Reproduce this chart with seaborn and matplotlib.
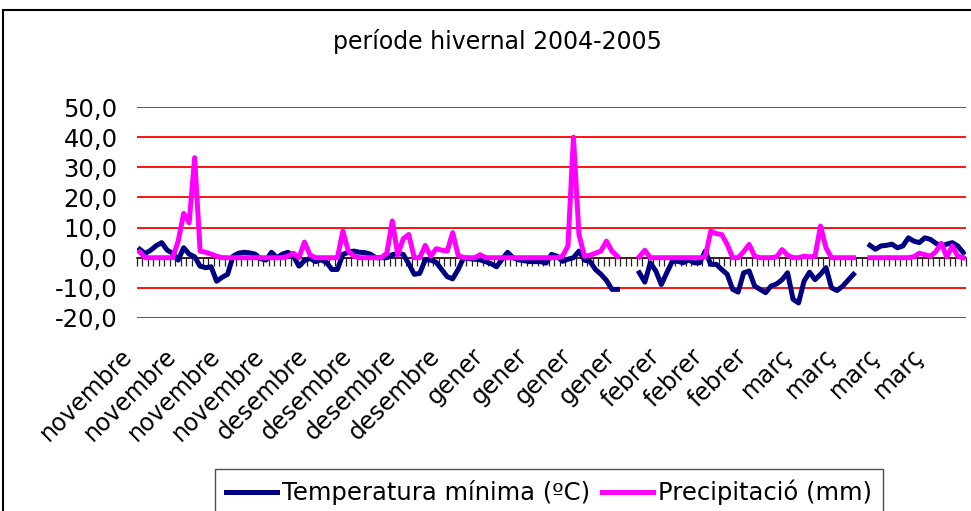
import numpy as np
import pandas as pd
import matplotlib
matplotlib.use('Agg')
import matplotlib.pyplot as plt
import seaborn as sns
from matplotlib.patches import Rectangle
from matplotlib.transforms import ScaledTranslation

# daily values, 1 Nov 2004 - 31 Mar 2005 (nan = no data)
nan = np.nan
temp_min = [
    2.8, 1.4, 2.5, 4.0, 5.0, 2.5, 1.5, -0.8, 3.3, 1.2,
    0.3, -2.8, -3.3, -3.0, -7.8, -6.5, -5.5, 0.5, 1.5, 1.8,
    1.6, 1.2, -0.3, -0.8, 1.8, 0.0, 1.2, 1.8, 0.5, -2.8,
    -1.0, -0.2, -1.3, -0.7, -1.5, -3.9, -3.9, 1.1, 1.8, 2.2,
    1.8, 1.7, 1.2, 0.0, 0.0, 0.0, 1.0, 1.4, 1.1, -2.0,
    -5.5, -5.2, -0.7, -0.8, -1.5, -3.9, -6.3, -7.0, -3.9, 0.0,
    -0.3, -0.5, -0.7, -1.3, -2.0, -3.0, -0.5, 1.8, 0.0, -0.7,
    -1.0, -1.3, -1.3, -1.3, -1.8, 1.1, 0.5, -1.2, -0.5, 0.0,
    2.2, -0.8, -1.2, -3.9, -5.5, -7.5, -10.5, -10.5, nan, nan,
    nan, -5.0, -8.1, -1.7, -4.4, -8.9, -5.0, -1.2, -1.2, -1.7,
    -0.7, -1.7, -1.7, 2.2, -2.2, -2.2, -3.9, -5.5, -10.5, -11.4,
    -5.0, -4.4, -9.4, -10.5, -11.6, -9.4, -8.7, -7.3, -5.0, -13.8,
    -15.0, -7.8, -4.8, -7.3, -5.5, -3.3, -10.0, -10.9, -9.5, -7.5,
    -5.5, nan, nan, 4.1, 2.8, 3.9, 4.1, 4.5, 3.3, 3.9,
    6.6, 5.5, 5.0, 6.6, 6.1, 4.8, 3.9, 4.5, 5.0, 3.9,
    1.7,
]
precip = [
    1.9, 0.0, 0.0, 0.0, 0.0, 0.0, 0.0, 5.5, 14.7, 11.6,
    33.2, 2.2, 1.8, 1.2, 0.5, 0.0, 0.0, 0.0, 0.0, 0.0,
    0.0, 0.0, 0.0, 0.0, 0.0, 0.0, 0.0, 0.5, 1.5, 0.0,
    5.2, 1.0, 0.0, 0.0, 0.0, 0.0, 0.0, 8.8, 2.2, 0.5,
    0.0, 0.0, 0.0, 0.0, 0.0, 1.5, 12.2, 1.0, 6.3, 7.7,
    0.0, 0.0, 4.1, 0.5, 3.0, 2.5, 2.2, 8.3, 0.8, 0.0,
    0.0, 0.0, 1.0, 0.0, 0.0, 0.0, 0.0, 0.0, 0.0, 0.0,
    0.0, 0.0, 0.0, 0.0, 0.0, 0.0, 0.0, 0.5, 3.9, 40.0,
    7.7, 0.5, 0.8, 1.5, 2.2, 5.5, 2.2, 0.5, nan, nan,
    nan, 0.3, 2.5, 0.0, 0.0, 0.0, 0.0, 0.0, 0.0, 0.0,
    0.0, 0.0, 0.0, 0.3, 8.8, 8.0, 7.7, 4.4, 0.0, 0.0,
    2.0, 4.4, 0.5, 0.0, 0.0, 0.0, 0.3, 2.7, 0.8, 0.0,
    0.0, 0.5, 0.3, 0.5, 10.5, 3.3, 0.0, 0.0, 0.0, 0.0,
    0.0, nan, nan, 0.0, 0.0, 0.0, 0.0, 0.0, 0.0, 0.0,
    0.0, 0.3, 1.5, 1.0, 0.5, 2.0, 4.8, 0.3, 3.9, 0.5,
    0.0,
]
tick_labels = (['novembre'] * 4 + ['desembre'] * 4 + ['gener'] * 4
               + ['febrer'] * 3 + ['març'] * 4)
label_step = 8
y_ticks = [-20, -10, 0, 10, 20, 30, 40, 50]

day = np.arange(len(temp_min))


def segments(values):
    # split a series at the gaps so the line breaks there
    s = pd.Series(values)
    seg = s.isna().cumsum()
    return pd.DataFrame({'day': day, 'value': s, 'seg': seg}).dropna()


df_t = segments(temp_min)
df_p = segments(precip)

fig = plt.figure(figsize=(9.71, 5.11), dpi=100)
ax = fig.add_axes([137 / 971, 1 - 318 / 511, 829 / 971, 211 / 511])

sns.lineplot(data=df_t, x='day', y='value', units='seg', estimator=None,
             color='#000080', lw=3.6, ax=ax, label='Temperatura mínima (ºC)',
             zorder=4)
sns.lineplot(data=df_p, x='day', y='value', units='seg', estimator=None,
             color='#FF00FF', lw=3.6, ax=ax, label='Precipitació (mm)',
             zorder=5)
handles, labels = ax.get_legend_handles_labels()
ax.get_legend().remove()

ax.set_xlim(-0.5, len(day) - 0.5)
ax.set_ylim(-20, 50)
ax.set_xlabel('')
ax.set_ylabel('')
for s in ['top', 'left', 'right']:
    ax.spines[s].set_visible(False)
# category axis crosses at 0, labels stay low
ax.spines['bottom'].set_position(('data', 0))
ax.spines['bottom'].set_color('#222222')
ax.spines['bottom'].set_linewidth(1.2)
ax.spines['bottom'].set_zorder(3)

ax.set_yticks(y_ticks)
ax.set_yticklabels([f'{v:.1f}'.replace('.', ',') for v in y_ticks])
ax.tick_params(axis='y', length=0, pad=14, labelsize=17.5)
ax.yaxis.grid(True, color='#FF0000', lw=1.3, zorder=1)

# a tick between every day, a month name every 8 days
bounds = np.arange(-0.5, len(day), 1.0)
x_labels = [''] * len(bounds)
for k, name in enumerate(tick_labels):
    x_labels[k * label_step] = name
ax.set_xticks(bounds)
ax.set_xticklabels(x_labels, rotation=45, ha='right',
                   rotation_mode='anchor', fontsize=17)
ax.xaxis.set_ticks_position('bottom')
ax.tick_params(axis='x', which='major', direction='out', length=6,
               width=0.9, color='#222222', pad=56)
offset = ScaledTranslation(-0.17, 0, fig.dpi_scale_trans)
for lab in ax.get_xticklabels():
    lab.set_transform(lab.get_transform() + offset)

seen = {}
for h, l in zip(handles, labels):
    seen.setdefault(l, h)
leg = fig.legend(list(seen.values()), list(seen.keys()), ncol=2,
                 loc='upper left', bbox_to_anchor=(215 / 971, 1 - 469 / 511),
                 fontsize=17.5, frameon=True, fancybox=False,
                 edgecolor='#222222', handlelength=2.1, handletextpad=0.2,
                 columnspacing=0.5, borderpad=0.45, borderaxespad=0)
leg.get_frame().set_linewidth(1.0)
for line in leg.get_lines():
    line.set_linewidth(3.6)

fig.text(497 / 971, 1 - 42 / 511, 'període hivernal 2004-2005',
         ha='center', va='center', fontsize=17)

fig.patches.append(Rectangle((3 / 971, -0.05), 1.0, 1.05 - 10 / 511,
                             transform=fig.transFigure, fill=False,
                             edgecolor='black', lw=1.5))

fig.savefig('out.png', dpi=100)
